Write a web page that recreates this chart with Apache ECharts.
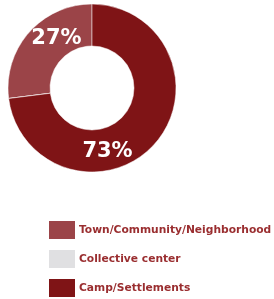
<!DOCTYPE html>
<html>
<head>
<meta charset="utf-8">
<script src="https://cdn.jsdelivr.net/npm/echarts@6/dist/echarts.min.js"></script>
<style>
  html, body { margin: 0; padding: 0; background: #fff; }
  #chart { width: 274px; height: 299px; }
</style>
</head>
<body>
<div id="chart"></div>
<script>
const categories = ['Town/Community/Neighborhood', 'Collective center', 'Camp/Settlements']
const values = [27, 0, 73]
const colors = ['#9b4448', '#e0e0e2', '#7f1416']

const chart = echarts.init(document.getElementById('chart'))
chart.setOption({
  animation: false,
  legend: {
    orient: 'vertical',
    left: 47,
    bottom: 0,
    padding: 0,
    itemWidth: 28,
    itemHeight: 20,
    itemGap: 7,
    icon: 'rect',
    data: categories,
    textStyle: {
      color: '#9a2e30',
      fontFamily: 'DejaVu Sans',
      fontWeight: 'bold',
      fontSize: 10.7,
      padding: [0, 0, 0, -2]
    }
  },
  series: [{
    type: 'pie',
    center: [92, 88],
    radius: [42, 84],
    startAngle: 90,
    clockwise: false,
    minAngle: 0,
    label: {
      show: true,
      position: 'inside',
      color: '#fff',
      fontFamily: 'DejaVu Sans',
      fontWeight: 'bold',
      fontSize: 21,
      formatter: p => p.value > 0 ? p.value + '%' : ''
    },
    labelLine: { show: false },
    itemStyle: { borderColor: '#fff', borderWidth: 0.5 },
    data: categories.map((name, i) => ({
      name: name,
      value: values[i],
      itemStyle: { color: colors[i] },
      label: { offset: i === 0 ? [14, -6] : [-34, 20] }
    }))
  }]
})
</script>
</body>
</html>
